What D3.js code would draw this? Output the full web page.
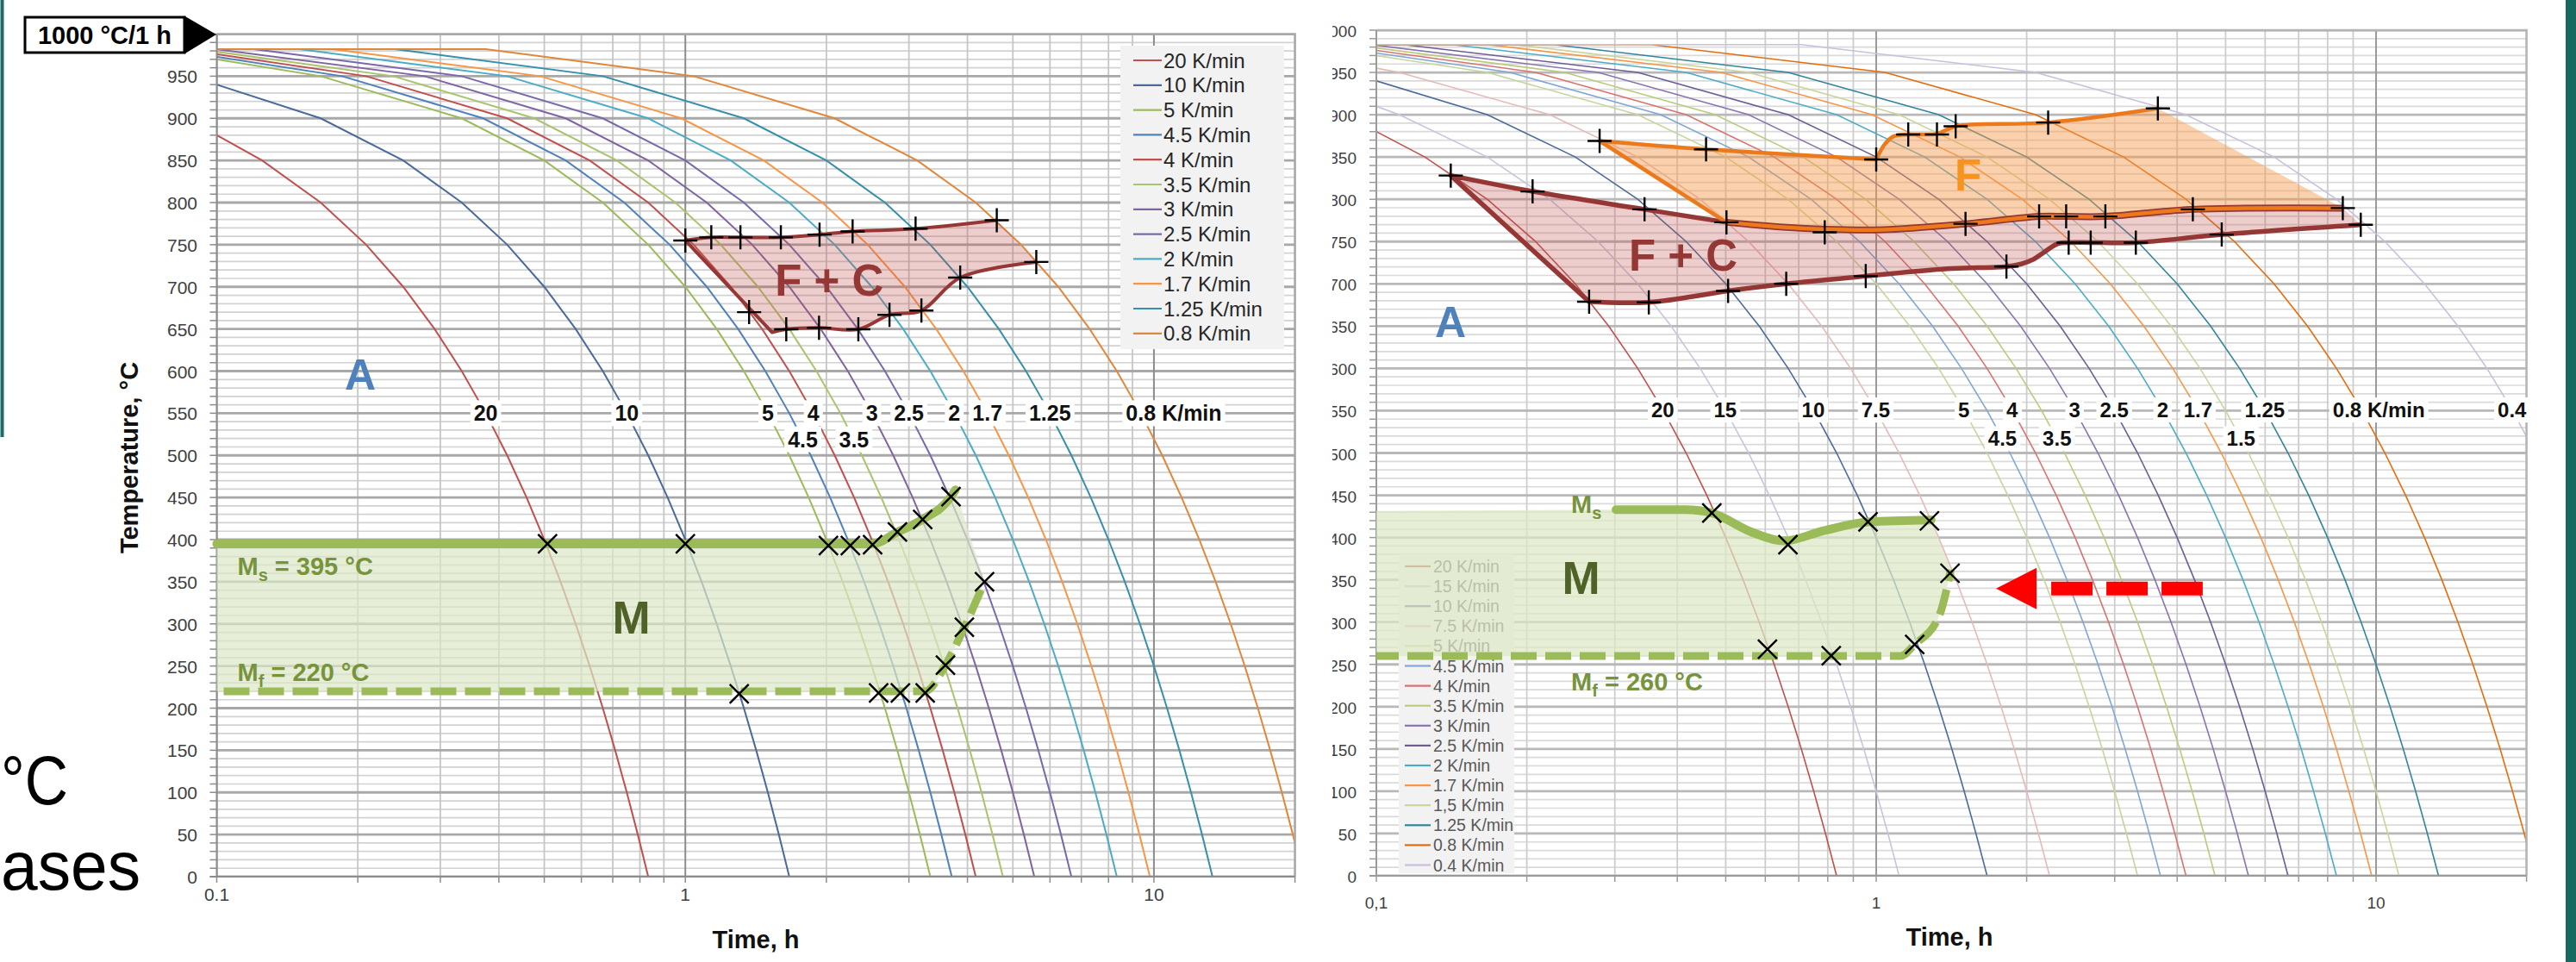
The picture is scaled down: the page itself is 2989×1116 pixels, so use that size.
<!DOCTYPE html>
<html>
<head>
<meta charset="utf-8">
<script src="https://cdn.jsdelivr.net/npm/d3@7"></script>
<style>
  html, body { margin: 0; padding: 0; background: #fff; }
  svg { display: block; font-family: "Liberation Sans", Arial, sans-serif; }
</style>
</head>
<body>
<svg id="chart" width="2989" height="1116"></svg>
<script>
// ---------------------------------------------------------------------------
// CCT diagrams after austenitising at 1000 °C / 1 h (two steel variants)
// ---------------------------------------------------------------------------

// Cooling starts from the austenitising temperature; each cooling curve is a
// linear cooling at its stated rate, sampled at every 50 K step.
const T_AUST = 1000;
const TEMP_LEVELS = [950, 900, 850, 800, 750, 700, 650, 600, 550, 500, 450, 400, 350, 300, 250, 200, 150, 100, 50, 0];

// ---- left diagram --------------------------------------------------------
const RATES_L  = [20, 10, 5, 4.5, 4, 3.5, 3, 2.5, 2, 1.7, 1.25, 0.8];
const START_L  = [880, 940, 970, 973, 976, 979, 982, 982, 982, 982, 982, 982];
const COLORS_L = ['#c0504d', '#4a6a9c', '#9bbb59', '#4f81bd', '#c0504d', '#a9c46a',
                  '#8064a2', '#7a68ad', '#4bacc6', '#f79646', '#3790ab', '#e0873a'];
const LEGEND_L = ['20 K/min', '10 K/min', '5 K/min', '4.5 K/min', '4 K/min', '3.5 K/min',
                  '3 K/min', '2.5 K/min', '2 K/min', '1.7 K/min', '1.25 K/min', '0.8 K/min'];
const RATE_LABELS_L_ROW1 = [20, 10, 5, 4, 3, 2.5, 2, 1.7, 1.25, 0.8];
const RATE_LABELS_L_ROW2 = [4.5, 3.5];
const RATE_LABEL_T_L = [550, 519];

// ferrite + carbide field (time h, temperature °C)
const FC_L_TOP    = [[1.0, 755], [1.136, 758.7], [1.311, 758.7], [1.599, 758.7], [1.934, 762],
                     [2.275, 765.8], [3.10, 769], [4.62, 779]];
const FC_L_BOTTOM = [[5.61, 729.5], [3.86, 711], [3.19, 671.8], [2.727, 666.7], [2.34, 649.6],
                     [1.929, 651.3], [1.642, 649.6], [1.532, 646]];
const FC_L_MARKS  = [[1.0, 755], [1.136, 758.7], [1.311, 758.7], [1.599, 758.7], [1.934, 762],
                     [2.275, 765.8], [3.10, 769], [4.62, 779], [5.61, 729.5], [3.86, 711],
                     [3.19, 671.8], [2.727, 666.7], [2.34, 649.6], [1.929, 651.3], [1.642, 649.6],
                     [1.368, 670]];
// martensite field
const MS_L = 395, MF_L = 220;
const MS_L_LINE  = [[0.1, MS_L], [2.51, MS_L], [2.835, 409], [3.21, 424], [3.69, 451], [3.77, 459]];
const MF_L_LINE  = [[0.1, MF_L], [3.25, MF_L], [3.59, 251], [3.94, 296], [4.35, 350]];
const MS_L_MARKS = [[0.508, 395], [1.0, 395], [2.02, 393], [2.25, 393], [2.51, 394],
                    [2.835, 409], [3.21, 424], [3.69, 451]];
const MF_L_MARKS = [[1.303, 217], [2.585, 218], [2.877, 218], [3.25, 218], [3.59, 251],
                    [3.94, 296], [4.35, 350]];

// ---- right diagram -------------------------------------------------------
const RATES_R  = [20, 15, 10, 7.5, 5, 4.5, 4, 3.5, 3, 2.5, 2, 1.7, 1.5, 1.25, 0.8, 0.4];
const START_R  = [880, 910, 940, 955, 970, 973, 976, 979, 982, 983, 983, 983, 983, 983, 983, 983];
const COLORS_R = ['#c0504d', '#c3c6de', '#4a6a9c', '#e6b9b8', '#c3d69b', '#7ea6d6', '#d9726f',
                  '#b8cc7a', '#8a74b0', '#6e5c96', '#4bacc6', '#f79646', '#c9d59a', '#31859c',
                  '#e46c0a', '#c8c0dc'];
const LEGEND_R = ['20 K/min', '15 K/min', '10 K/min', '7.5 K/min', '5 K/min', '4.5 K/min',
                  '4 K/min', '3.5 K/min', '3 K/min', '2.5 K/min', '2 K/min', '1.7 K/min',
                  '1,5 K/min', '1.25 K/min', '0.8 K/min', '0.4 K/min'];
const RATE_LABELS_R_ROW1 = [20, 15, 10, 7.5, 5, 4, 3, 2.5, 2, 1.7, 1.25, 0.8, 0.4];
const RATE_LABELS_R_ROW2 = [4.5, 3.5, 1.5];
const RATE_LABEL_T_R = [551, 517];

// ferrite field
const F_R_TOP   = [[0.2797, 869], [0.4567, 859.1], [1.0, 847.1]];
const F_R_STEP  = [[1.0, 847.1], [1.04, 865], [1.08, 874], [1.159, 876.6], [1.323, 877.5],
                   [1.442, 886.4], [2.208, 890.8], [3.66, 907.5]];
// boundary shared by F (below) and F + C (above)
const F_FC_R    = [[0.5017, 772.8], [0.65, 767], [0.789, 764.5], [1.03, 764], [1.509, 771],
                   [2.118, 779.7], [2.399, 779.7], [2.874, 779.7], [4.30, 788.1], [8.58, 789.6]];
const FC_R_TOP  = [[0.1409, 828.1], [0.2054, 809.3], [0.344, 788.1], [0.5017, 772.8]];
const FC_R_BOTTOM = [[9.32, 769.9], [4.912, 758.3], [3.307, 748.8], [2.686, 748.8], [2.427, 748.8],
                     [2.31, 747.5], [2.15, 736], [2.063, 729], [1.95, 723.5], [1.822, 720.4],
                     [1.389, 717.8], [0.953, 709.1], [0.6607, 700], [0.5055, 691.6],
                     [0.3508, 678.2], [0.2665, 678.9]];
const FC_R_MARKS = [[0.1409, 828.1], [0.2054, 809.3], [0.344, 788.1], [0.5017, 772.8],
                    [0.789, 760.9], [1.509, 771], [2.118, 779.7], [2.399, 779.7], [2.874, 779.7],
                    [4.30, 788.1], [8.58, 789.6], [9.32, 769.9], [4.912, 758.3], [3.307, 748.8],
                    [2.686, 748.8], [2.427, 748.8], [1.822, 720.4], [0.953, 709.1], [0.6607, 700],
                    [0.5055, 691.6], [0.3508, 678.2], [0.2665, 678.9]];
const F_R_MARKS  = [[0.2797, 869], [0.4567, 859.1], [1.0, 847.1], [1.159, 876.6], [1.323, 876.6],
                    [1.442, 886.4], [2.208, 890.8], [3.66, 907.5]];
// martensite field
const MF_R = 260;
const M_R_LEFT   = [[0.1, 431.5], [0.3016, 433]];
const MS_R_LINE  = [[0.3016, 433], [0.416, 433], [0.469, 429], [0.5621, 406.7], [0.653, 396],
                    [0.789, 408.5], [0.963, 418.5], [1.288, 420.8]];
const MF_R_LINE  = [[0.1, MF_R], [1.12, MF_R], [1.194, 273.5], [1.336, 307], [1.41, 362]];
const MS_R_MARKS = [[0.469, 429], [0.666, 391.5], [0.963, 418.5], [1.278, 419.7]];
const MF_R_MARKS = [[0.606, 268], [0.813, 260.3], [1.194, 273.5], [1.405, 357.8]];

// common axis ticks
const X_TICKS_MINOR = [0.2, 0.3, 0.4, 0.5, 0.6, 0.7, 0.8, 0.9, 2, 3, 4, 5, 6, 7, 8, 9, 20];
const X_TICKS_MAJOR = [0.1, 1, 10];
const X_TICK_LABELS_L = ['0.1', '1', '10'];
const X_TICK_LABELS_R = ['0,1', '1', '10'];

// ---------------------------------------------------------------------------
const svg = d3.select('#chart');
const CR = d3.curveCatmullRom.alpha(0.5);
const MX = d3.curveMonotoneX;

function coolingPoints(rate, start) {
  const k = 60 * rate;                       // K per hour
  const pts = [[0.1, start]];
  const tHold = (T_AUST - start) / k;
  if (tHold > 0.1) pts.push([tHold, start]);
  TEMP_LEVELS.forEach(T => {
    if (T < start) {
      const t = (T_AUST - T) / k;
      if (t > 0.1) pts.push([t, T]);
    }
  });
  return pts;
}
function pathOf(x, y, pts, curve) {
  return d3.line().x(d => x(d[0])).y(d => y(d[1])).curve(curve || d3.curveLinear)(pts);
}
function joinPaths(parts, close) {
  return parts.map((p, i) => i ? p.replace(/^M/, 'L') : p).join('') + (close ? 'Z' : '');
}
function plus(g, px, py, s) {
  g.append('path').attr('d', `M${px - s},${py}H${px + s}M${px},${py - s}V${py + s}`)
    .attr('stroke', '#000').attr('stroke-width', 2.4).attr('fill', 'none');
}
function cross(g, px, py, s) {
  g.append('path').attr('d', `M${px - s},${py - s}L${px + s},${py + s}M${px - s},${py + s}L${px + s},${py - s}`)
    .attr('stroke', '#000').attr('stroke-width', 2.4).attr('fill', 'none');
}

function drawPanel(p) {
  const g = svg.append('g');
  if (p.clipLeft !== undefined) {
    const id = p.id + '-outer';
    svg.append('clipPath').attr('id', id).append('rect')
      .attr('x', p.clipLeft).attr('y', 0).attr('width', 2989 - p.clipLeft).attr('height', 1116);
    g.attr('clip-path', `url(#${id})`);
  }
  const x = d3.scaleLog().domain([0.1, 20]).range(p.xRange);
  const y = d3.scaleLinear().domain([0, 1000]).range(p.yRange);
  const [xa, xb] = x.range();
  const [ya, yb] = y.range();

  const clipId = p.id + '-plot';
  svg.append('clipPath').attr('id', clipId).append('rect')
    .attr('x', xa).attr('y', yb).attr('width', xb - xa).attr('height', ya - yb);
  const plot = g.append('g').attr('clip-path', `url(#${clipId})`);

  // --- grid ---
  const grid = plot.append('g');
  d3.range(0, 1001, 10).filter(v => v % 50).forEach(v => {
    grid.append('line').attr('x1', xa).attr('x2', xb).attr('y1', y(v)).attr('y2', y(v))
      .attr('stroke', p.gridMinor).attr('stroke-width', 1.7);
  });
  X_TICKS_MINOR.forEach(v => {
    grid.append('line').attr('x1', x(v)).attr('x2', x(v)).attr('y1', yb).attr('y2', ya)
      .attr('stroke', p.gridVert).attr('stroke-width', 1.8);
  });
  d3.range(0, 1001, 50).forEach(v => {
    grid.append('line').attr('x1', xa).attr('x2', xb).attr('y1', y(v)).attr('y2', y(v))
      .attr('stroke', p.gridMajor).attr('stroke-width', 2.8);
  });
  X_TICKS_MAJOR.forEach(v => {
    grid.append('line').attr('x1', x(v)).attr('x2', x(v)).attr('y1', yb).attr('y2', ya)
      .attr('stroke', p.gridDecade).attr('stroke-width', 2);
  });

  // --- cooling curves ---
  p.rates.forEach((r, i) => {
    plot.append('path').attr('d', pathOf(x, y, coolingPoints(r, p.starts[i])))
      .attr('fill', 'none').attr('stroke', p.colors[i]).attr('stroke-width', p.curveWidth);
  });

  // --- plot frame and axes ---
  g.append('path').attr('d', `M${xa},${yb}H${xb}V${ya}`).attr('fill', 'none')
    .attr('stroke', p.frame).attr('stroke-width', 2.5);
  g.append('line').attr('x1', xa).attr('x2', xa).attr('y1', yb).attr('y2', ya)
    .attr('stroke', p.axis).attr('stroke-width', 2);
  g.append('line').attr('x1', xa - 8).attr('x2', xb).attr('y1', ya).attr('y2', ya)
    .attr('stroke', p.axis).attr('stroke-width', 2);
  d3.range(0, 1001, 10).forEach(v => {
    g.append('line').attr('x1', xa - 8).attr('x2', xa).attr('y1', y(v)).attr('y2', y(v))
      .attr('stroke', p.axis).attr('stroke-width', 1.5);
  });
  X_TICKS_MINOR.concat(X_TICKS_MAJOR).forEach(v => {
    g.append('line').attr('x1', x(v)).attr('x2', x(v)).attr('y1', ya).attr('y2', ya + 7)
      .attr('stroke', p.axis).attr('stroke-width', 1.5);
  });
  d3.range(0, 1001, 50).forEach(v => {
    if (p.hideTop && v === 1000) return;
    g.append('text').attr('x', p.yLabelX).attr('y', y(v) + 8).attr('text-anchor', 'end')
      .attr('font-size', p.tickSize).attr('fill', '#404040').text(v);
  });
  X_TICKS_MAJOR.forEach((v, i) => {
    g.append('text').attr('x', x(v)).attr('y', p.xLabelY).attr('text-anchor', 'middle')
      .attr('font-size', p.tickSize).attr('fill', '#404040').text(p.xTickLabels[i]);
  });
  g.append('text').attr('x', p.xTitle[0]).attr('y', p.xTitle[1]).attr('text-anchor', 'middle')
    .attr('font-size', 29).attr('font-weight', 'bold').attr('fill', '#111').text('Time, h');
  if (p.yTitle) {
    g.append('text').attr('transform', `translate(${p.yTitle[0]},${p.yTitle[1]}) rotate(-90)`)
      .attr('text-anchor', 'middle').attr('font-size', 29).attr('font-weight', 'bold')
      .attr('fill', '#111').text('Temperature, °C');
  }

  // --- legend ---
  const lg = g.append('g');
  const L = p.legend;
  lg.append('rect').attr('x', L.x).attr('y', L.y).attr('width', L.w).attr('height', L.h)
    .attr('fill', '#f2f2f2');
  p.legendLabels.forEach((t, i) => {
    const cy = L.y0 + i * L.dy;
    lg.append('line').attr('x1', L.sx).attr('x2', L.sx + L.sw).attr('y1', cy).attr('y2', cy)
      .attr('stroke', p.colors[i]).attr('stroke-width', 2.2);
    lg.append('text').attr('x', L.tx).attr('y', cy + L.fs * 0.36).attr('font-size', L.fs)
      .attr('fill', L.color).text(t);
  });

  return { g, plot, x, y };
}

function rateLabels(P, rates, T, opts) {
  const { g, x, y } = P;
  rates.forEach(r => {
    const t = (T_AUST - T) / (60 * r);
    const px = x(t), py = y(T) + opts.fs * 0.36;
    const lab = g.append('g');
    const bg = lab.append('rect').attr('fill', '#fff');
    const num = lab.append('text').attr('x', px).attr('y', py)
      .attr('text-anchor', r === 0.8 ? opts.unitAnchor : 'middle')
      .attr('font-size', opts.fs).attr('font-weight', 'bold').attr('fill', '#111').text(r);
    let bb = num.node().getBBox();
    if (r === 0.8) {
      const unit = lab.append('text').attr('x', bb.x + bb.width + opts.fs * 0.28).attr('y', py)
        .attr('font-size', opts.fs).attr('font-weight', 'bold').attr('fill', '#111').text('K/min');
      const ub = unit.node().getBBox();
      bb = { x: bb.x, y: bb.y, width: ub.x + ub.width - bb.x, height: bb.height };
    }
    bg.attr('x', bb.x - 4).attr('y', bb.y - 1).attr('width', bb.width + 8).attr('height', bb.height + 2);
  });
}

function phaseText(P, t, T, txt, size, color, anchor) {
  return P.g.append('text').attr('x', P.x(t)).attr('y', P.y(T)).attr('text-anchor', anchor || 'middle')
    .attr('font-size', size).attr('font-weight', 'bold').attr('fill', color).text(txt);
}
function msText(P, t, T, sub, rest, color) {
  const tx = P.g.append('text').attr('x', P.x(t)).attr('y', P.y(T)).attr('font-size', 29)
    .attr('font-weight', 'bold').attr('fill', color);
  tx.append('tspan').text('M');
  tx.append('tspan').attr('font-size', 20).attr('dy', 7).text(sub);
  if (rest) tx.append('tspan').attr('dy', -7).text(rest);
}

// ---- slide background pieces ----------------------------------------------
svg.append('line').attr('x1', 2.5).attr('x2', 2.5).attr('y1', 0).attr('y2', 507)
  .attr('stroke', '#1d6b66').attr('stroke-width', 4);
svg.append('rect').attr('x', 2977).attr('y', 0).attr('width', 12).attr('height', 1116).attr('fill', '#16695f');
svg.append('text').attr('x', 1).attr('y', 933).attr('font-size', 80)
  .attr('textLength', 78).attr('lengthAdjust', 'spacingAndGlyphs')
  .attr('fill', '#000').text('°C');
svg.append('text').attr('x', 1).attr('y', 1032).attr('font-size', 80)
  .attr('textLength', 162).attr('lengthAdjust', 'spacingAndGlyphs')
  .attr('fill', '#000').text('ases');

// ---- left diagram ------------------------------------------------------------
const PL = drawPanel({
  id: 'left', xRange: [251.5, 1502.6], yRange: [1017, 39.5],
  rates: RATES_L, starts: START_L, colors: COLORS_L, legendLabels: LEGEND_L,
  curveWidth: 2, gridMinor: '#d2d2d2', gridVert: '#c6c6c6', gridMajor: '#a8a8a8',
  gridDecade: '#8c8c8c', frame: '#a8a8a8', axis: '#8c8c8c',
  tickSize: 21, yLabelX: 229, xLabelY: 1045, xTickLabels: X_TICK_LABELS_L, hideTop: true,
  xTitle: [877, 1100], yTitle: [160, 531],
  legend: { x: 1300, y: 53, w: 190, h: 352, y0: 70, dy: 28.8, sx: 1315, sw: 33, tx: 1350,
            fs: 24, color: '#262626' }
});

// martensite field
{
  const { g, x, y } = PL;
  const fill = joinPaths([pathOf(x, y, MS_L_LINE, MX),
                          pathOf(x, y, [MS_L_LINE[MS_L_LINE.length - 1], MF_L_LINE[MF_L_LINE.length - 1]]),
                          pathOf(x, y, MF_L_LINE.slice().reverse(), MX)], true);
  g.append('path').attr('d', fill).attr('fill', '#dce7c6').attr('fill-opacity', 0.7);
  g.append('path').attr('d', pathOf(x, y, MF_L_LINE, MX)).attr('fill', 'none')
    .attr('stroke', '#9bbb59').attr('stroke-width', 9).attr('stroke-dasharray', '30,10')
    .attr('stroke-dashoffset', -8);
  g.append('path').attr('d', pathOf(x, y, MS_L_LINE, MX)).attr('fill', 'none')
    .attr('stroke', '#9bbb59').attr('stroke-width', 10).attr('stroke-linecap', 'round');
  MS_L_MARKS.concat(MF_L_MARKS).forEach(d => cross(g, x(d[0]), y(d[1]), 11));
  msText(PL, 0.1107, 358, 's', ' = 395 °C', '#77933c');
  msText(PL, 0.1107, 232, 'f', ' = 220 °C', '#77933c');
  phaseText(PL, 0.767, 288, 'M', 53, '#4f6228');
}
// ferrite + carbide field
{
  const { g, x, y } = PL;
  const top = pathOf(x, y, FC_L_TOP, CR);
  const bottom = pathOf(x, y, FC_L_BOTTOM, CR);
  const left = pathOf(x, y, [FC_L_BOTTOM[FC_L_BOTTOM.length - 1], FC_L_TOP[0]]);
  const right = pathOf(x, y, [FC_L_TOP[FC_L_TOP.length - 1], FC_L_BOTTOM[0]]);
  g.append('path').attr('d', joinPaths([top, right, bottom, left], true))
    .attr('fill', '#c0504d').attr('fill-opacity', 0.28);
  g.append('path').attr('d', joinPaths([bottom, left, top], false)).attr('fill', 'none')
    .attr('stroke', '#953735').attr('stroke-width', 4).attr('stroke-linejoin', 'round');
  FC_L_MARKS.forEach(d => plus(g, x(d[0]), y(d[1]), 14));
  phaseText(PL, 2.029, 690, 'F + C', 51, '#953735');
}
rateLabels(PL, RATE_LABELS_L_ROW1, RATE_LABEL_T_L[0], { fs: 25, unitAnchor: 'middle' });
rateLabels(PL, RATE_LABELS_L_ROW2, RATE_LABEL_T_L[1], { fs: 25, unitAnchor: 'middle' });
phaseText(PL, 0.2024, 578, 'A', 50, '#4f81bd');

// start condition tag
svg.append('rect').attr('x', 29).attr('y', 20).attr('width', 185).attr('height', 41)
  .attr('fill', '#fff').attr('stroke', '#000').attr('stroke-width', 3);
svg.append('path').attr('d', 'M214,18.5L251,40L214,62.5Z').attr('fill', '#000');
svg.append('text').attr('x', 121.5).attr('y', 51).attr('text-anchor', 'middle')
  .attr('font-size', 29).attr('font-weight', 'bold').attr('fill', '#000').text('1000 °C/1 h');

// ---- right diagram -----------------------------------------------------------
const PR = drawPanel({
  id: 'right', xRange: [1597, 2931.6], yRange: [1016, 35], clipLeft: 1546,
  rates: RATES_R, starts: START_R, colors: COLORS_R, legendLabels: LEGEND_R,
  curveWidth: 1.6, gridMinor: '#dadada', gridVert: '#cdcdcd', gridMajor: '#b8b8b8',
  gridDecade: '#9a9a9a', frame: '#b4b4b4', axis: '#9a9a9a',
  tickSize: 19, yLabelX: 1574, xLabelY: 1054, xTickLabels: X_TICK_LABELS_R, hideTop: false,
  xTitle: [2262, 1097], yTitle: null,
  legend: { x: 1623, y: 643, w: 134, h: 370, y0: 657, dy: 23.1, sx: 1630, sw: 30, tx: 1663,
            fs: 19.5, color: '#595959' }
});

{
  const { g, x, y } = PR;
  // ferrite + carbide and ferrite fields
  const shared = pathOf(x, y, F_FC_R, CR);
  const sharedRev = pathOf(x, y, F_FC_R.slice().reverse(), CR);
  const fcTop = pathOf(x, y, FC_R_TOP, CR);
  const fcBottom = pathOf(x, y, FC_R_BOTTOM, CR);
  const fcRight = pathOf(x, y, [F_FC_R[F_FC_R.length - 1], FC_R_BOTTOM[0]]);
  const fcLeft = pathOf(x, y, [FC_R_BOTTOM[FC_R_BOTTOM.length - 1], FC_R_TOP[0]]);
  g.append('path').attr('d', joinPaths([fcTop, shared, fcRight, fcBottom, fcLeft], true))
    .attr('fill', '#c0504d').attr('fill-opacity', 0.28);

  const fTop = pathOf(x, y, F_R_TOP, CR);
  const fStep = pathOf(x, y, F_R_STEP, CR);
  const fRight = pathOf(x, y, [F_R_STEP[F_R_STEP.length - 1], F_FC_R[F_FC_R.length - 1]]);
  const fLeft = pathOf(x, y, [F_FC_R[0], F_R_TOP[0]]);
  g.append('path').attr('d', joinPaths([fTop, fStep, fRight, sharedRev, fLeft], true))
    .attr('fill', '#f79646').attr('fill-opacity', 0.45);

  g.append('path').attr('d', joinPaths([fcBottom, fcLeft, fcTop, shared], false)).attr('fill', 'none')
    .attr('stroke', '#953735').attr('stroke-width', 5.5).attr('stroke-linejoin', 'round');
  g.append('path').attr('d', shared).attr('fill', 'none')
    .attr('stroke', '#953735').attr('stroke-width', 8);
  g.append('path').attr('d', joinPaths([sharedRev, fLeft, fTop, fStep], false)).attr('fill', 'none')
    .attr('stroke', '#ec7a1c').attr('stroke-width', 4.5).attr('stroke-linejoin', 'round');

  FC_R_MARKS.concat(F_R_MARKS).forEach(d => plus(g, x(d[0]), y(d[1]), 14));

  // martensite field (drawn over the legend)
  const mFill = joinPaths([pathOf(x, y, M_R_LEFT), pathOf(x, y, MS_R_LINE, MX).replace(/^M[^CL]*/, ''),
                           pathOf(x, y, [MS_R_LINE[MS_R_LINE.length - 1], MF_R_LINE[MF_R_LINE.length - 1]]),
                           pathOf(x, y, MF_R_LINE.slice().reverse(), MX)], true);
  g.append('path').attr('d', mFill).attr('fill', '#dce7c6').attr('fill-opacity', 0.72);
  g.append('path').attr('d', pathOf(x, y, MF_R_LINE, MX)).attr('fill', 'none')
    .attr('stroke', '#9bbb59').attr('stroke-width', 9).attr('stroke-dasharray', '30,10')
    .attr('stroke-dashoffset', 4);
  g.append('path').attr('d', pathOf(x, y, MS_R_LINE, MX)).attr('fill', 'none')
    .attr('stroke', '#9bbb59').attr('stroke-width', 10).attr('stroke-linecap', 'round');
  MS_R_MARKS.concat(MF_R_MARKS).forEach(d => cross(g, x(d[0]), y(d[1]), 11));

  msText(PR, 0.2453, 429, 's', null, '#77933c');
  msText(PR, 0.2453, 219, 'f', ' = 260 °C', '#77933c');
  phaseText(PR, 0.2567, 333, 'M', 53, '#4f6228');
  phaseText(PR, 0.411, 715.6, 'F + C', 51, '#953735');
  phaseText(PR, 1.526, 810.4, 'F', 51, '#f7941d');
  phaseText(PR, 0.1407, 637, 'A', 50, '#4f81bd');

  // arrow pointing at the shifted martensite finish
  const tipX = x(1.737), tipY = y(339.8), tailX = x(4.5);
  g.append('path').attr('d', `M${tipX},${tipY}L${tipX + 47},${tipY - 24}L${tipX + 47},${tipY + 24}Z`)
    .attr('fill', '#ff0000');
  g.append('line').attr('x1', tipX + 64).attr('x2', tailX).attr('y1', tipY).attr('y2', tipY)
    .attr('stroke', '#ff0000').attr('stroke-width', 16).attr('stroke-dasharray', '48,16');
}
rateLabels(PR, RATE_LABELS_R_ROW1, RATE_LABEL_T_R[0], { fs: 24, unitAnchor: 'end' });
rateLabels(PR, RATE_LABELS_R_ROW2, RATE_LABEL_T_R[1], { fs: 24, unitAnchor: 'end' });
</script>
</body>
</html>
